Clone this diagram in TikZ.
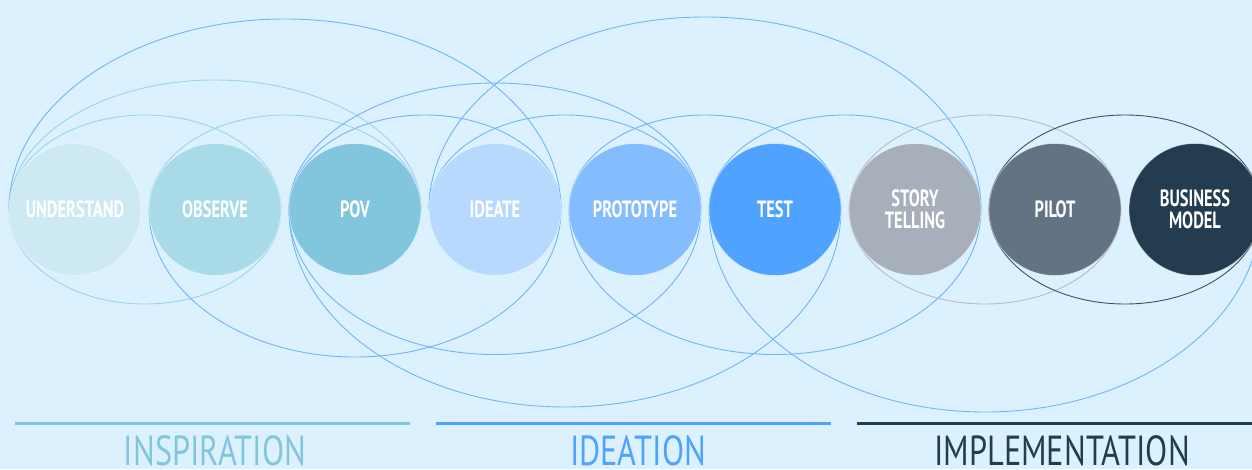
\documentclass[tikz,border=0pt]{standalone}
\usepackage{fontspec}
\setmainfont{PT Sans}[FakeStretch=0.7]
\newfontfamily\headfont{PT Sans}[FakeStretch=0.77]
\usetikzlibrary{positioning, calc, backgrounds}
\definecolor{bg}{HTML}{DCF1FE}
\definecolor{cUnd}{HTML}{CDE9F3}
\definecolor{cObs}{HTML}{A8DAE8}
\definecolor{cPov}{HTML}{81C6DC}
\definecolor{cIde}{HTML}{B8D9FE}
\definecolor{cPro}{HTML}{84BDFE}
\definecolor{cTes}{HTML}{4FA3FE}
\definecolor{cSto}{HTML}{A7B0BA}
\definecolor{cPil}{HTML}{637384}
\definecolor{cBus}{HTML}{233C50}
\definecolor{aCyan}{HTML}{9AD3E6}
\definecolor{aBlue}{HTML}{6FB3FE}
\definecolor{aGray}{HTML}{B4BCC4}
\definecolor{aNavy}{HTML}{3B5163}

\begin{document}
\begin{tikzpicture}[x=1pt, y=1pt, node distance = 8pt]
 \tikzstyle{ball} = [circle, minimum size=132pt, inner sep=0pt, outer sep=0pt, draw=white, draw opacity=0.45, line width=0.8pt, text=white, align=center, font=\bfseries\fontsize{23.5}{22}\selectfont]
 \tikzstyle{U} = [ball, fill=cUnd]
 \tikzstyle{O} = [ball, fill=cObs]
 \tikzstyle{P} = [ball, fill=cPov]
 \tikzstyle{I} = [ball, fill=cIde]
 \tikzstyle{R} = [ball, fill=cPro]
 \tikzstyle{T} = [ball, fill=cTes]
 \tikzstyle{S} = [ball, fill=cSto]
 \tikzstyle{L} = [ball, fill=cPil]
 \tikzstyle{B} = [ball, fill=cBus]
 \tikzstyle{lc} = [draw=aCyan, line width=0.9pt]
 \tikzstyle{lb} = [draw=aBlue, line width=0.9pt]
 \tikzstyle{lg} = [draw=aGray, line width=0.9pt]
 \tikzstyle{ln} = [draw=aNavy, line width=0.9pt]
 \tikzstyle{bar} = [line width=3pt]
 \tikzstyle{head} = [anchor=base, inner sep=0pt, text depth=0pt, font=\headfont\fontsize{42}{42}\selectfont]

 \useasboundingbox (0,0) rectangle (1252,-469);
 \clip (0,0) rectangle (1252,-469);

 \node [U] at (75,-209.5) (und) {UNDERSTAND};
 \node [O, right = of und] (obs) {OBSERVE};
 \node [P, right = of obs] (pov) {POV};
 \node [I, right = of pov] (ide) {IDEATE};
 \node [R, right = of ide] (pro) {PROTOTYPE};
 \node [T, right = of pro] (tes) {TEST};
 \node [S, right = of tes] (sto) {STORY\\TELLING};
 \node [L, right = of sto] (pil) {PILOT};
 \node [B, right = of pil] (bus) {BUSINESS\\MODEL};

 \begin{scope}[on background layer]
  \fill [bg] (0,0) rectangle (1252,-469);
  \draw [lc] ($(und)!0.5!(obs)$) ellipse [x radius=136, y radius=94.5];
  \draw [lc] (obs.west) arc [start angle=180, end angle=0, x radius=136, y radius=94.5];
  \draw [lc] (und.west) arc [start angle=180, end angle=0, x radius=206, y radius=129.5];
  \draw [lb] (und.west) arc [start angle=180, end angle=0, x radius=276, y radius=190.5];
  \draw [lb] (pov.west) arc [start angle=180, end angle=0, x radius=136, y radius=94.5];
  \draw [lb] (pov.west) arc [start angle=180, end angle=0, x radius=206, y radius=126.5];
  \draw [lb] (ide.west) arc [start angle=180, end angle=0, x radius=136, y radius=94.5];
  \draw [lb] (ide.west) arc [start angle=180, end angle=0, x radius=276, y radius=192.5];
  \draw [lb] (pro.west) arc [start angle=180, end angle=0, x radius=136, y radius=94.5];
  \draw [lb] (tes.west) arc [start angle=180, end angle=0, x radius=136, y radius=94.5];
  \draw [lb] (obs.west) arc [start angle=180, end angle=360, x radius=206, y radius=147.5];
  \draw [lb] (pov.west) arc [start angle=180, end angle=360, x radius=206, y radius=145];
  \draw [lb] (pov.west) arc [start angle=180, end angle=360, x radius=276, y radius=197.5];
  \draw [lb] (pro.west) arc [start angle=180, end angle=360, x radius=206, y radius=145];
  \draw [lb] (tes.west) arc [start angle=180, end angle=360, x radius=276, y radius=202.5];
  \draw [lg] ($(sto)!0.5!(pil)$) ellipse [x radius=136, y radius=94.5];
  \draw [ln] ($(pil)!0.5!(bus)$) ellipse [x radius=136, y radius=94.5];
 \end{scope}

 \draw [bar, cPov] (15,-423) -- (410,-423);
 \draw [bar, cTes] (436,-423) -- (831,-423);
 \draw [bar, cBus] (857,-423) -- (1252,-423);
 \node [head, text=cPov] at (215,-465) (insp) {INSPIRATION};
 \node [head, text=cTes] at (638,-465) (idea) {IDEATION};
 \node [head, text=cBus] at (1062,-465) (impl) {IMPLEMENTATION};
\end{tikzpicture}
\end{document}
